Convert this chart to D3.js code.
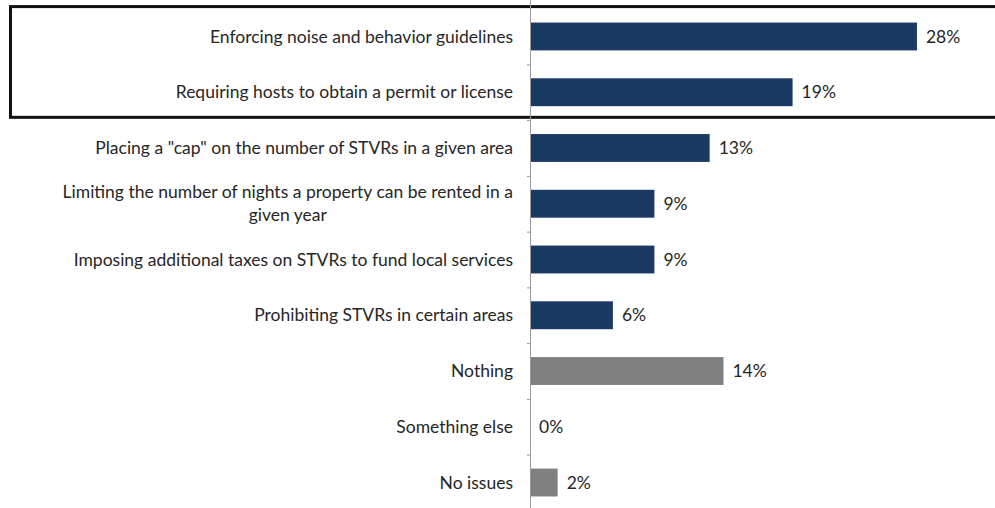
<!DOCTYPE html>
<html>
<head>
<meta charset="utf-8">
<script src="https://d3js.org/d3.v7.min.js"></script>
<style>
  body { margin: 0; background: #fff; }
  svg { display: block; }
  .label, .value { font-family: Lato, "Open Sans", sans-serif; font-size: 17.5px; fill: #262626; }
</style>
</head>
<body>
<svg width="995" height="508"></svg>
<script>
var categories = [
  ["Enforcing noise and behavior guidelines"],
  ["Requiring hosts to obtain a permit or license"],
  ["Placing a \"cap\" on the number of STVRs in a given area"],
  ["Limiting the number of nights a property can be rented in a", "given year"],
  ["Imposing additional taxes on STVRs to fund local services"],
  ["Prohibiting STVRs in certain areas"],
  ["Nothing"],
  ["Something else"],
  ["No issues"]
];
var values = [28, 19, 13, 9, 9, 6, 14, 0, 2];
var groups = ["policy", "policy", "policy", "policy", "policy", "policy", "other", "other", "other"];

var svg = d3.select("svg");

var ids = d3.range(categories.length);

var y = d3.scaleBand()
    .domain(ids)
    .range([8.6, 510.4])
    .paddingInner(0.5)
    .paddingOuter(0.25);

var x = d3.scaleLinear()
    .domain([0, 30])
    .range([530, 944.6]);

var color = d3.scaleOrdinal()
    .domain(["policy", "other"])
    .range(["#1b3a63", "#808080"]);

// category boundaries for the tick marks
var yIdx = d3.scaleLinear()
    .domain([0, categories.length])
    .range([y.range()[0], y.range()[1]]);

// highlight box round the top two rows
var boxTop = y.range()[0] - 2,
    boxBottom = y(1) + y.bandwidth() + y.step() * 0.2;
svg.append("rect")
    .attr("x", 10.5)
    .attr("y", boxTop)
    .attr("width", 1000)
    .attr("height", boxBottom - boxTop)
    .attr("fill", "none")
    .attr("stroke", "#111")
    .attr("stroke-width", 3);

// bars
svg.selectAll(".bar")
    .data(ids)
    .enter().append("rect")
    .attr("class", "bar")
    .attr("x", x(0))
    .attr("y", function (i) { return y(i); })
    .attr("width", function (i) { return x(values[i]) - x(0); })
    .attr("height", y.bandwidth())
    .attr("fill", function (i) { return color(groups[i]); });

// axis with small ticks between categories
svg.append("g")
    .attr("transform", "translate(" + x(0) + ",0)")
    .call(d3.axisLeft(yIdx)
        .tickValues(d3.range(1, categories.length))
        .tickSize(3)
        .tickSizeOuter(0)
        .tickFormat(""))
    .call(function (g) {
        g.select(".domain").attr("stroke", "#9a9a9a").attr("d", "M0.5,0V508");
        g.selectAll(".tick line").attr("stroke", "#9a9a9a");
    });

// category labels
var labels = svg.selectAll(".label")
    .data(ids)
    .enter().append("text")
    .attr("class", "label")
    .attr("text-anchor", "end")
    .attr("transform", function (i) {
        return "translate(513," + (y(i) + y.bandwidth() / 2) + ")";
    });

labels.each(function (i) {
    var t = d3.select(this),
        lines = categories[i],
        lh = 23,
        y0 = -(lines.length - 1) * lh / 2;
    var first = t.append("tspan")
        .attr("x", 0)
        .attr("y", y0)
        .attr("dy", "0.35em")
        .text(lines[0]);
    if (lines.length > 1) {
        var w = first.node().getComputedTextLength();
        for (var k = 1; k < lines.length; k++) {
            t.append("tspan")
                .attr("x", -w / 2)
                .attr("y", y0 + k * lh)
                .attr("dy", "0.35em")
                .attr("text-anchor", "middle")
                .text(lines[k]);
        }
    }
});

// value labels
svg.selectAll(".value")
    .data(ids)
    .enter().append("text")
    .attr("class", "value")
    .attr("x", function (i) { return x(values[i]) + 9; })
    .attr("y", function (i) { return y(i) + y.bandwidth() / 2; })
    .attr("dy", "0.35em")
    .text(function (i) { return values[i] + "%"; });
</script>
</body>
</html>
